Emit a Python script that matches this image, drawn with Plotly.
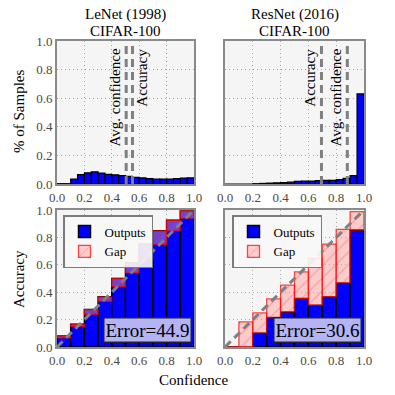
import plotly.graph_objects as go
from plotly.subplots import make_subplots

# ---------------- data ----------------
hist_edges = [i * 0.05 for i in range(21)]
lenet_hist = [0.002, 0.002, 0.035, 0.066, 0.078, 0.085, 0.076, 0.068, 0.064, 0.059,
              0.054, 0.047, 0.043, 0.038, 0.035, 0.035, 0.035, 0.038, 0.042, 0.043]
resnet_hist = [0.0, 0.0, 0.0, 0.0, 0.002, 0.004, 0.006, 0.008, 0.010, 0.013,
               0.018, 0.020, 0.021, 0.023, 0.025, 0.026, 0.030, 0.040, 0.058, 0.630]

lenet_avg_conf, lenet_accuracy = 0.505, 0.551
resnet_avg_conf, resnet_accuracy = 0.88, 0.694

rel_edges = [i * 0.1 for i in range(11)]
lenet_outputs = [0.080, 0.166, 0.273, 0.366, 0.500, 0.615, 0.750, 0.848, 0.925, 0.993]
lenet_expected = [0.066, 0.151, 0.239, 0.334, 0.440, 0.541, 0.645, 0.750, 0.848, 0.940]
resnet_outputs = [0.0, 0.0, 0.102, 0.215, 0.256, 0.354, 0.305, 0.366, 0.468, 0.854]
resnet_expected = [0.0, 0.183, 0.249, 0.351, 0.451, 0.549, 0.646, 0.751, 0.859, 0.988]

lenet_error, resnet_error = "44.9", "30.6"
title_lines = [["LeNet (1998)", "CIFAR-100"], ["ResNet (2016)", "CIFAR-100"]]
tick_vals = [0, 0.2, 0.4, 0.6, 0.8, 1.0]
tick_text = ["0.0", "0.2", "0.4", "0.6", "0.8", "1.0"]

# ---------------- style ----------------
FONT = "Liberation Serif"
TICKC = "#4f4840"
BLUE = "#0000ff"

fig = make_subplots(rows=2, cols=2)

def centers(edges):
    return [(edges[i] + edges[i + 1]) / 2 for i in range(len(edges) - 1)]

hc = centers(hist_edges)
rc = centers(rel_edges)

# top histograms
for col, h in [(1, lenet_hist), (2, resnet_hist)]:
    fig.add_trace(go.Bar(x=hc, y=h, width=0.05, marker=dict(color=BLUE, line=dict(color="black", width=1.2)),
                         showlegend=False), row=1, col=col)

# reliability diagrams
gap_marker = dict(color="rgba(255,150,150,0.45)", line=dict(color="rgba(255,0,0,0.7)", width=1.3),
                  pattern=dict(shape="/", fgcolor="rgba(255,0,0,0.5)", bgcolor="rgba(255,150,150,0.45)",
                               size=9, solidity=0.12))
for col, outs, exp, leg in [(1, lenet_outputs, lenet_expected, "legend"),
                            (2, resnet_outputs, resnet_expected, "legend2")]:
    fig.add_trace(go.Bar(x=rc, y=outs, width=0.1, name="Outputs", legend=leg,
                         marker=dict(color=BLUE, line=dict(color="black", width=1.5))), row=2, col=col)
    base = [min(a, b) for a, b in zip(outs, exp)]
    hgt = [abs(a - b) for a, b in zip(outs, exp)]
    fig.add_trace(go.Bar(x=rc, y=hgt, base=base, width=0.1, name="Gap", legend=leg,
                         marker=gap_marker), row=2, col=col)

fig.update_layout(barmode="overlay")

# domains
xl = [57 / 395, 194 / 395]
xr = [225 / 395, 364 / 395]
yt = [1 - 184 / 395, 1 - 41 / 395]
yb = [1 - 347 / 395, 1 - 210 / 395]

axis_common = dict(range=[0, 1], tickvals=tick_vals, ticktext=tick_text, showline=True, mirror=True,
                   linecolor="#8a8a8a", linewidth=2, showgrid=True, gridcolor="#a8a8a8", griddash="1px,3px",
                   gridwidth=1, zeroline=False, ticks="", automargin=False,
                   tickfont=dict(family=FONT, size=13, color=TICKC))
axis_nolab = {k: v for k, v in axis_common.items() if k != "tickfont"}

fig.update_layout(
    xaxis=dict(domain=xl, **axis_common),
    xaxis2=dict(domain=xr, **axis_common),
    xaxis3=dict(domain=xl, **axis_common),
    xaxis4=dict(domain=xr, **axis_common),
    yaxis=dict(domain=yt, **axis_common),
    yaxis2=dict(domain=yt, showticklabels=False, **axis_nolab),
    yaxis3=dict(domain=yb, **axis_common),
    yaxis4=dict(domain=yb, showticklabels=False, **axis_nolab),
)

fig.update_layout(width=395, height=395, margin=dict(l=0, r=0, t=0, b=0, autoexpand=False),
                  paper_bgcolor="white", plot_bgcolor="#f5f5f5",
                  font=dict(family=FONT, size=14, color="black"))

# dashed lines
dash = dict(color="#808080", width=3, dash="8px,5px")
for xref, val in [("x", lenet_avg_conf), ("x", lenet_accuracy), ("x2", resnet_avg_conf), ("x2", resnet_accuracy)]:
    yref = "y domain" if xref == "x" else "y2 domain"
    fig.add_shape(type="line", xref=xref, yref=yref, x0=val, x1=val, y0=0, y1=1, line=dash, layer="above")
for xref, yref in [("x3", "y3"), ("x4", "y4")]:
    fig.add_shape(type="line", xref=xref, yref=yref, x0=0, y0=0, x1=1, y1=1, line=dash, layer="above")

# vertical labels
vt = dict(showarrow=False, textangle=-90, font=dict(family=FONT, size=15, color="black"))
fig.add_annotation(x=lenet_avg_conf, xref="x", y=0.25, yref="y", text="Avg. confidence",
                   xanchor="right", yanchor="bottom", xshift=-1, **vt)
fig.add_annotation(x=lenet_accuracy, xref="x", y=0.53, yref="y", text="Accuracy",
                   xanchor="left", yanchor="bottom", xshift=0, **vt)
fig.add_annotation(x=resnet_avg_conf, xref="x2", y=0.25, yref="y2", text="Avg. confidence",
                   xanchor="right", yanchor="bottom", xshift=-1, **vt)
fig.add_annotation(x=resnet_accuracy, xref="x2", y=0.53, yref="y2", text="Accuracy",
                   xanchor="right", yanchor="bottom", xshift=-1, **vt)

# titles
for xc, lines in [((xl[0] + xl[1]) / 2, title_lines[0]), ((xr[0] + xr[1]) / 2, title_lines[1])]:
    for ypx, t in zip([15, 31], lines):
        fig.add_annotation(x=xc, y=1 - ypx / 395, xref="paper", yref="paper", text=t, showarrow=False,
                           xanchor="center", yanchor="middle", font=dict(family=FONT, size=15, color="black"))

# axis labels
lab = dict(xref="paper", yref="paper", showarrow=False, xanchor="center", yanchor="middle",
           font=dict(family=FONT, size=15, color="black"))
fig.add_annotation(x=19 / 395, y=1 - 112 / 395, text="% of Samples", textangle=-90, **lab)
fig.add_annotation(x=19 / 395, y=1 - 279 / 395, text="Accuracy", textangle=-90, **lab)
fig.add_annotation(x=193 / 395, y=1 - 380 / 395, text="Confidence", **lab)

# error boxes
for xref, yref, err in [("x3 domain", "y3 domain", lenet_error), ("x4 domain", "y4 domain", resnet_error)]:
    fig.add_annotation(x=0.985, y=0.03, xref=xref, yref=yref, text="Error=" + err, showarrow=False,
                       xanchor="right", yanchor="bottom", bgcolor="#b3b3f5", bordercolor="#222",
                       borderwidth=1.5, borderpad=1, font=dict(family=FONT, size=19, color="black"))

# legends
leg_common = dict(bgcolor="rgba(248,248,248,0.9)", bordercolor="#7a7a7a", borderwidth=1.5,
                  font=dict(family=FONT, size=13, color="black"), xanchor="left", yanchor="top",
                  tracegroupgap=0, itemwidth=30)
fig.update_layout(legend=dict(x=63 / 395, y=1 - 215 / 395, **leg_common),
                  legend2=dict(x=232 / 395, y=1 - 215 / 395, **leg_common))

fig.write_html("out.html", config={"displayModeBar": False},
               post_script="document.body.style.margin='0px';")
